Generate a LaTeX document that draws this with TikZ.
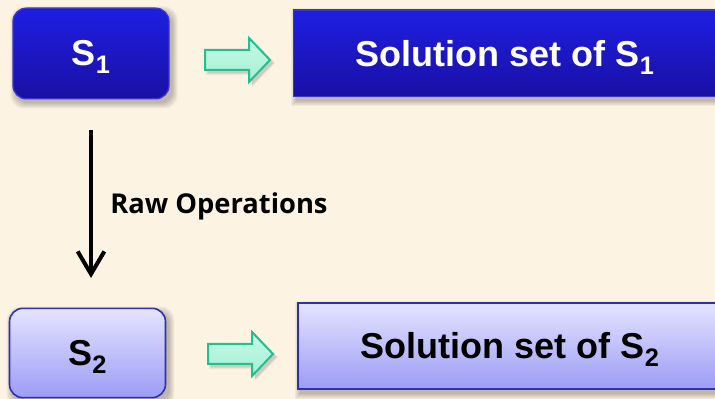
\documentclass[tikz,border=0pt]{standalone}
\usepackage{fontspec}
\setmainfont{Liberation Sans}
\newfontfamily\opsfont{Open Sans}
\usetikzlibrary{arrows.meta,calc}

\definecolor{paper}{HTML}{FDF3E3}
\definecolor{deeptop}{HTML}{1E1EE2}
\definecolor{deepbot}{HTML}{1A10A4}
\definecolor{deepline}{HTML}{3A36C8}
\definecolor{palettop}{HTML}{E4E4FF}
\definecolor{palebot}{HTML}{9C9CF6}
\definecolor{paleline}{HTML}{2E2EB4}
\definecolor{minttop}{HTML}{C6FAE6}
\definecolor{mintbot}{HTML}{A4F0D4}
\definecolor{mintline}{HTML}{22C08E}

\pgfdeclarelayer{back}
\pgfdeclarelayer{shade}
\pgfsetlayers{back,shade,main}

\tikzset{
  boxtext/.style={font=\fontsize{27pt}{30pt}\selectfont\bfseries, inner sep=0pt, align=center},
  deepbox/.style={boxtext, text=white, draw=deepline, line width=1pt,
                  top color=deeptop, bottom color=deepbot},
  palebox/.style={boxtext, text=black, draw=paleline, line width=1.2pt,
                  top color=palettop, bottom color=palebot},
  blockarrow/.style={draw=mintline, line width=1.5pt, line join=miter,
                     top color=minttop, bottom color=mintbot},
  stepline/.style={line width=3pt, -{Straight Barb[length=17pt,width=20pt,line width=3pt]}},
}

% lowered index digit for S_1, S_2 (kept out of the text box size)
\newcommand\lowidx[1]{\raisebox{-6pt}[0pt][0pt]{\fontsize{19pt}{20pt}\selectfont #1}}

% soft shadow behind a named node: offset to the lower right, fading edges
\newcommand\softshadow[2]{%
  \begin{pgfonlayer}{shade}
    \foreach \e in {0,1,...,5}{
      \fill[black, opacity=0.045, rounded corners=#2]
        ([shift={(3-\e,4-\e)}]#1.north west) rectangle ([shift={(3+\e,4+\e)}]#1.south east);
    }
  \end{pgfonlayer}}

% block arrow starting at x=#1, centred on y=#2
\newcommand\mintarrow[2]{%
  \begin{pgfonlayer}{shade}
    \foreach \e in {0,1,2}{
      \fill[black, opacity=0.06, shift={(3,3)}]
        (#1-\e,#2-10-\e) -- (#1+44,#2-10-\e) -- (#1+44,#2-22-\e) -- (#1+65+\e,#2)
        -- (#1+44,#2+22+\e) -- (#1+44,#2+10+\e) -- (#1-\e,#2+10+\e) -- cycle;
    }
  \end{pgfonlayer}
  \path[blockarrow]
    (#1,#2-10) -- (#1+44,#2-10) -- (#1+44,#2-22) -- (#1+65,#2)
    -- (#1+44,#2+22) -- (#1+44,#2+10) -- (#1,#2+10) -- cycle;}

\begin{document}
\begin{tikzpicture}[x=0.75pt, y=-0.75pt]
  \useasboundingbox (0,0) rectangle (715,399);
  \clip (0,0) rectangle (715,399);
  \begin{pgfonlayer}{back}
    \fill[paper] (0,0) rectangle (715,399);
  \end{pgfonlayer}

  % first system and its solution set
  \node[deepbox, rounded corners=10pt, minimum width=117pt, minimum height=68pt]
    (s1) at (91,53.5) {S\lowidx{1}};
  \softshadow{s1}{10pt}
  \mintarrow{205}{60}
  \node[deepbox, minimum width=320pt, minimum height=65pt, anchor=west]
    (sol1) at (293,53.5) {};
  \softshadow{sol1}{0pt}
  \node[boxtext, text=white] (sol1txt) at (505,54) {Solution set of S\lowidx{1}};

  % row operations step
  \coordinate (opsfrom) at (91,130);
  \coordinate (opsto) at (91,278);
  \draw[stepline] (opsfrom) -- (opsto);
  \node[anchor=west, inner sep=0pt, font=\opsfont\fontsize{20.5pt}{22pt}\selectfont\bfseries]
    (ops) at (110,206) {Raw Operations};

  % second system and its solution set
  \node[palebox, rounded corners=10pt, minimum width=117pt, minimum height=67pt]
    (s2) at (87.5,353) {S\lowidx{2}};
  \softshadow{s2}{10pt}
  \mintarrow{208}{354}
  \node[palebox, minimum width=320pt, minimum height=64.5pt, anchor=west]
    (sol2) at (297,346) {};
  \softshadow{sol2}{0pt}
  \node[boxtext, text=black] (sol2txt) at (510,345.5) {Solution set of S\lowidx{2}};
\end{tikzpicture}
\end{document}
